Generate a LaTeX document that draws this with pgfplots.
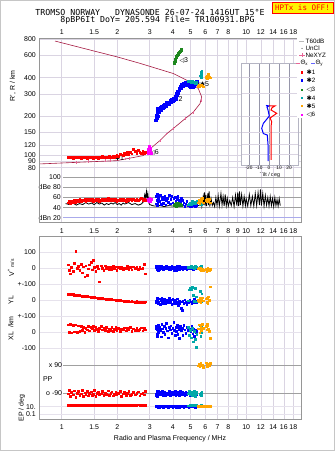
\documentclass[border=0pt]{standalone}
\usepackage{pgfplots}
\pgfplotsset{compat=1.18}
\usepackage{pgfplotstable}
\usepackage{fontspec}
\setmainfont{Liberation Sans}
\newfontfamily\monofont{DejaVu Sans Mono}
\newfontfamily\symfont{DejaVu Sans}

\definecolor{gridc}{RGB}{218,212,226}
\definecolor{lgridc}{RGB}{230,226,236}
\definecolor{framec}{RGB}{150,150,150}
\definecolor{dgrid}{RGB}{160,160,160}
\definecolor{bgrid}{RGB}{170,170,235}
\definecolor{cred}{RGB}{255,0,0}
\definecolor{cblue}{RGB}{0,0,255}
\definecolor{cgreen}{RGB}{30,135,30}
\definecolor{cteal}{RGB}{0,168,168}
\definecolor{corange}{RGB}{255,165,0}
\definecolor{cmag}{RGB}{255,0,255}
\definecolor{maroon}{RGB}{165,25,65}
\definecolor{pinkm}{RGB}{232,100,150}
\definecolor{insetg}{RGB}{150,150,170}

\newcommand{\fs}{\fontsize{7}{8}\selectfont}
\newcommand{\fss}{\fontsize{6.3}{7}\selectfont}

% echoes: f [MHz], h [km], a [dB], V* [m/s], YL, XL [km], PP [deg], EP [deg]
\pgfplotstableread{
f h a v yl xl pp ep
1.08 96 50 20 38 45 -95 30
1.10 97 52 -12 35 0 -70 25
1.11 95.5 49 -35 40 48 -110 35
1.13 96.5 53 5 33 -5 -85 22
1.15 95 51 -20 36 42 -100 30
1.17 96 54 30 32 2 -75 28
1.19 97 50 106 34 46 -115 33
1.21 95.5 55 0 30 -3 -90 26
1.23 96 52 10 31 40 -80 30
1.25 97 56 -15 28 5 -105 24
1.27 95 53 25 27 35 -95 32
1.29 96 55 -30 25 10 -70 28
1.31 97 54 8 26 30 -112 30
1.33 95.5 57 -55 24 -2 -88 27
1.35 96.5 53 15 22 25 -98 31
1.37 95 56 -45 23 15 -78 26
1.39 96 55 -5 21 38 -108 30
1.41 97 57 20 20 8 -92 29
1.44 95.5 54 35 19 28 -82 27
1.46 96.5 56 -10 18 20 -102 31
1.48 95 52 50 17 35 -96 28
1.50 96 55 5 16 12 -74 30
1.53 97.5 57 -20 15 30 -110 26
1.56 96 54 10 14 18 -90 32
1.58 95 56 -5 12 5 -84 28
1.60 97 53 -85 13 25 -100 30
1.63 96 55 15 11 38 -94 27
1.66 98 57 0 10 15 -80 29
1.69 96 54 -12 9 22 -106 31
1.72 97 56 14 8 10 -88 28
1.75 95.5 55 -3 7 30 -98 30
1.78 97 58 6 6 3 -76 26
1.81 98 54 -10 5 20 -104 30
1.84 96 56 4 4 12 -92 29
1.87 97 55 -9 3 28 -82 31
1.90 99 57 12 2 6 -108 27
1.93 97 54 -2 1 18 -96 30
1.96 98 56 8 0 32 -86 28
1.99 100 53 -12 -2 10 -100 30
2.03 98 55 3 -1 24 -90 29
2.07 103 57 -5 -3 4 -78 31
2.11 101 54 9 -4 20 -112 27
2.15 99 56 -8 -5 14 -94 30
2.19 104 55 2 -6 26 -84 28
2.23 102 53 -4 -7 8 -102 30
2.27 105 56 10 -8 22 -92 29
2.31 101 54 -6 -9 16 -80 31
2.35 106 57 5 -10 28 -106 27
2.40 103 55 -10 -8 6 -96 30
2.45 111 56 8 -11 20 -86 28
2.50 107 54 -2 -12 12 -100 30
2.55 104 57 6 -9 24 -90 29
2.60 109 55 -8 -13 10 -82 31
2.65 106 56 3 -10 18 -108 27
2.70 104 58 -4 -14 26 -94 30
2.75 108 55 0 -12 8 -88 28
2.79 103 57 25 -15 22 -100 30
2.83 105 54 -35 -11 14 -80 29
}\tred

\pgfplotstableread{
f h a v yl xl pp ep
3.24 188 48 5 -8 20 -95 12
3.28 196 55 -8 5 -10 -80 10
3.26 205 62 12 -15 35 -105 14
3.31 200 50 -3 -5 5 -88 9
3.29 214 66 8 10 -25 -98 11
3.33 222 58 -12 -20 45 -78 13
3.30 230 45 2 0 15 -110 10
3.36 215 60 15 -12 -5 -92 12
3.38 228 52 -6 8 30 -84 9
3.42 235 64 0 -25 10 -100 11
3.45 225 47 10 -3 -30 -86 14
3.48 240 56 -4 15 50 -96 10
3.52 232 61 6 -10 20 -76 12
3.55 245 49 -10 -18 0 -108 9
3.58 238 57 3 4 38 -90 11
3.62 250 63 9 -8 -15 -82 13
3.66 242 46 -5 -22 25 -102 10
3.70 255 54 14 2 55 -94 12
3.74 248 59 -2 -14 8 -88 11
3.78 258 51 7 -6 -35 -98 9
3.82 252 65 -9 12 28 -80 13
3.86 265 48 4 -16 15 -106 10
3.90 258 56 -7 -2 40 -92 12
3.95 270 62 11 -28 -8 -84 11
4.00 262 50 0 6 22 -100 9
4.04 278 58 -12 -12 60 -86 13
4.08 270 44 8 -20 12 -96 10
4.12 285 60 -3 0 -20 -78 12
4.15 275 53 5 -9 32 -104 11
4.18 300 47 -15 -24 5 -90 9
4.22 292 57 10 8 45 -82 13
4.25 315 63 -6 -14 -12 -98 10
4.28 305 49 2 -31 28 -88 12
4.32 330 55 13 -4 18 -108 11
4.35 322 45 -8 -18 -40 -94 9
4.40 345 52 6 -10 35 -80 13
4.43 335 58 -2 -50 8 -100 10
4.48 352 46 9 -62 25 -86 12
4.52 345 54 -11 -6 -18 -96 11
4.58 360 50 4 -20 42 -90 9
4.64 352 43 -5 2 15 -104 12
4.70 365 48 8 -12 -6 -84 10
4.76 355 52 -8 -26 30 -98 13
4.82 362 44 3 -8 10 -92 11
4.88 350 47 -4 -16 -22 -80 9
4.94 345 42 6 0 20 -102 12
5.00 340 45 -2 -10 5 -88 10
5.06 348 43 0 -20 35 -96 11
5.12 338 46 5 -6 -10 -90 12
5.18 350 44 -6 -14 18 -84 10
5.24 345 45 2 4 -25 -100 11
5.30 358 43 -3 -8 12 -92 9
5.36 365 44 4 -12 -5 -86 12
5.40 375 46 0 -4 8 -98 10
}\tblue

\pgfplotstableread{
f h a v yl xl pp ep
4.86 378 46 5 -5 30 -95 18
4.92 372 48 8 65 -20 -80 20
4.98 380 50 2 72 10 -100 22
5.04 368 47 10 68 -35 -85 19
5.10 375 52 4 80 25 -105 21
5.16 365 49 6 30 -60 -90 20
5.22 370 51 0 -6 5 -78 23
5.28 362 48 12 75 -45 -110 18
5.34 368 50 3 20 -94 -92 22
5.40 360 52 8 -10 -15 -84 20
5.62 415 47 6 55 40 -98 19
5.66 440 49 2 10 -25 -88 21
5.70 425 46 10 -8 15 -102 20
5.74 450 48 4 40 -5 -82 22
5.68 405 50 7 5 30 -95 18
}\tteal

\pgfplotstableread{
f h a v yl xl pp ep
5.48 345 50 -5 0 20 85 12
5.55 350 54 0 -8 45 95 10
5.60 342 48 -10 10 -5 80 14
5.66 348 56 -3 -15 30 100 11
5.72 352 52 -15 5 10 88 13
5.78 346 58 -8 15 50 92 10
5.84 340 50 -12 -5 25 78 12
6.05 402 55 -6 8 35 105 11
6.12 410 57 -18 -12 15 90 13
6.18 418 52 -2 -20 40 84 10
6.24 425 54 -10 20 20 96 12
6.30 405 56 -14 -2 5 88 11
6.36 400 50 -8 83 -40 100 14
6.15 395 53 -4 10 48 82 12
}\torange

\pgfplotstableread{
f h a
4.05 515 46
4.08 530 44
4.10 545 48
4.13 560 45
4.16 575 50
4.19 590 43
4.22 600 47
4.26 612 45
4.30 625 49
4.34 635 44
4.38 645 46
4.42 655 48
4.45 662 45
4.12 540 47
4.20 580 44
4.28 610 46
}\tgreen

\pgfplotstableread{
f h a
2.92 108 55
2.95 112 57
2.97 106 53
3.00 115 58
3.02 110 54
3.05 104 56
2.98 118 55
3.03 113 52
2.94 104 56
}\tmag

% ionospheric profile (bottomside + topside)
\pgfplotstableread{
f h
0.756 85.5
1.206 88
1.987 90.7
2.77 99.3
3.01 112
3.41 130
3.71 146.8
4.11 165.2
4.66 192
5.17 216.3
5.62 251.6
5.74 283.5
5.50 329.7
4.96 371
4.03 431
2.66 517
1.987 582
1.548 637
0.92 771
}\tprof

\pgfplotstableread{
f h
1.206 88
1.394 89.1
1.717 90.7
1.83 90.9
2.2 93.5
2.33 94.5
3.41 130
3.71 146
4.03 161
4.66 192
5.17 216
5.68 267
}\tbars

\pgfplotsset{
  echodots/.style={only marks, mark=square*, mark size=0.85bp, color=#1, mark options={draw=none, fill=#1}},
}

\begin{document}
\begin{tikzpicture}
\useasboundingbox (0,0) rectangle (335bp,451bp);

% ---------------- top panel: virtual height ----------------
\begin{axis}[anchor=south west, scale only axis, width=262.4bp,
  xmode=log, xmin=0.756, xmax=20.0,
  at={(39.3bp,280bp)}, height=132.5bp,
  ymode=log, ymin=75.4, ymax=807,
  tick style={draw=none},
  ticklabel style={font=\fs},
  grid style={gridc, line width=0.5bp},
  axis line style={draw=none},
  xtick={1,1.5,2,3,4,5,6,7,8,9,10,12,14,16,18},
  xticklabels={1,1.5,2,3,4,5,6,7,8,,10,12,14,16,18},
  xticklabel pos=upper,
  ytick={80,90,100,120,150,200,300,400,600,800},
  yticklabels={80,90,100,120,150,200,300,400,600,800},
  xmajorgrids, ymajorgrids]
\addplot[maroon, line width=0.6bp] table[x=f,y=h] {\tprof};
\addplot[only marks, mark=|, mark size=1.4bp, pinkm, mark options={line width=0.6bp}] table[x=f,y=h] {\tbars};
\addplot[echodots=cred] table[x=f,y=h] {\tred};
\addplot[echodots=cmag] table[x=f,y=h] {\tmag};
\addplot[echodots=cblue, mark size=1.2bp] table[x=f,y=h] {\tblue};
\addplot[echodots=cgreen, mark size=1.0bp] table[x=f,y=h] {\tgreen};
\addplot[echodots=cteal] table[x=f,y=h] {\tteal};
\addplot[echodots=corange] table[x=f,y=h] {\torange};
\node[anchor=west, inner sep=0pt, font=\fs] at (axis cs:1.946,94.3) {{\symfont\fontsize{6}{6}\selectfont ✱}1};
\node[anchor=west, inner sep=0pt, font=\fs] at (axis cs:3.01,105) {{\symfont\fontsize{6}{6}\selectfont ◁}6};
\node[anchor=west, inner sep=0pt, font=\fs] at (axis cs:4.03,275) {{\symfont\fontsize{6}{6}\selectfont ✱}2};
\node[anchor=west, inner sep=0pt, font=\fs] at (axis cs:4.34,541) {{\symfont\fontsize{6}{6}\selectfont ◁}3};
\node[anchor=west, inner sep=0pt, font=\fs] at (axis cs:5.28,354) {{\symfont\fontsize{6}{6}\selectfont ✱✱}5};
\end{axis}

% ---------------- tilt inset ----------------
\begin{axis}[at={(241.7bp,285.5bp)}, anchor=south west, scale only axis,
  width=56.6bp, height=102.5bp,
  xmin=-27.3, xmax=29.3, ymode=log, ymin=82.2, ymax=519,
  axis background/.style={fill=white},
  axis line style={draw=insetg!70, line width=0.6bp},
  tick style={draw=none},
  xtick={-20,-10,0,10,20}, xticklabels={-20,-10,0,10,20},
  xticklabel style={font=\fontsize{4.8}{5}\selectfont, inner sep=0.6bp},
  ytick={100,120,150,200,300,400}, yticklabels={},
  xmajorgrids, ymajorgrids,
  x grid style={insetg, line width=0.5bp},
  y grid style={gridc, line width=0.5bp}]
\addplot[cblue, line width=1bp] coordinates {(-3,242) (0,240) (-2,235) (-1,223) (0.3,200) (-5.7,175) (-7.3,160.5) (-5.7,146) (-1.7,142) (-1,120) (-1,89)};
\addplot[cred, line width=1bp] coordinates {(0,240) (6,240) (3,232) (2,223) (7.7,210) (1,193) (2.7,181) (2,165) (2,120) (2,91)};
\end{axis}
\node[font=\fontsize{5.3}{6}\selectfont, inner sep=0pt] at (270bp,276.3bp) {Tilt / deg};

% ---------------- amplitude panel ----------------
\begin{axis}[anchor=south west, scale only axis, width=262.4bp,
  xmode=log, xmin=0.756, xmax=20.0,
  at={(39.3bp,228.3bp)}, height=51.7bp,
  ymin=10.1, ymax=112.5, axis line style={draw=none},
  tick style={draw=none},
  ticklabel style={font=\fs},
  grid style={gridc, line width=0.5bp},
  xtick={1,1.5,2,3,4,5,6,7,8,9,10,12,14,16,18},
  xticklabels={1,1.5,2,3,4,5,6,7,8,9,10,12,14,16,18},
  xticklabel style={yshift=-2.5bp},
  xmajorgrids,
  ytick={20,40,60,80,100}, yticklabels={dBn 20,40,60,dBe 80,100},
  yticklabel style={xshift=25bp}]
\draw[bgrid, line width=0.6bp] (axis cs:1.02,20) -- (axis cs:20,20);
\draw[dgrid, line width=0.6bp] (axis cs:1.02,40) -- (axis cs:20,40);
\draw[dgrid, line width=0.6bp] (axis cs:1.02,60) -- (axis cs:20,60);
\draw[dgrid, line width=0.6bp] (axis cs:1.02,80) -- (axis cs:20,80);
\draw[dgrid, line width=0.6bp] (axis cs:1.02,100) -- (axis cs:20,100);
\addplot[black, line width=0.8bp] coordinates {
(1.05,48)(1.1,46)(1.15,49)(1.2,45)(1.25,48)(1.3,46)(1.35,50)(1.4,47)(1.45,49)(1.5,46)
(1.55,50)(1.6,47)(1.65,49)(1.7,45)(1.75,48)(1.8,46)(1.85,49)(1.9,47)(1.95,50)(2.0,46)
(2.05,48)(2.1,45)(2.15,49)(2.2,47)(2.3,50)(2.4,46)(2.5,48)(2.6,45)(2.7,47)(2.78,52)
(2.82,66)(2.85,60)(2.88,72)(2.9,58)(2.93,68)(2.96,50)(3.0,46)(3.1,44)(3.2,43)(3.4,44)
(3.6,42)(3.8,44)(4.0,43)(4.2,45)(4.4,42)(4.6,44)(4.8,43)(5.0,44)(5.2,42)(5.4,44)
(5.6,44)(5.7,55)(5.75,43)(5.85,62)(5.9,45)(5.95,70)(6.0,44)(6.05,65)(6.1,43)(6.2,68)
(6.25,45)(6.3,72)(6.35,42)(6.45,58)(6.55,44)(6.65,50)(6.75,42)(6.85,60)(6.95,44)(7.05,64)
(7.15,43)(7.3,68)(7.4,45)(7.5,62)(7.6,43)(7.7,66)(7.8,44)(7.9,58)(8.0,43)(8.15,54)
(8.3,44)(8.45,60)(8.6,42)(8.75,65)(8.9,44)(9.0,70)(9.1,43)(9.2,72)(9.3,45)(9.45,66)
(9.6,43)(9.75,62)(9.9,44)(10.0,58)(10.2,43)(10.4,66)(10.6,44)(10.8,62)(11.0,43)(11.2,68)
(11.4,44)(11.6,70)(11.8,45)(11.95,76)(12.1,44)(12.3,68)(12.5,43)(12.7,64)(12.9,45)(13.1,60)
(13.3,43)(13.5,62)(13.7,44)(13.9,58)(14.1,42)(14.3,60)(14.5,44)(14.7,56)(14.9,43)(15.1,58)(15.3,44)};
\addplot[echodots=cred] table[x=f,y=a] {\tred};
\addplot[echodots=cmag] table[x=f,y=a] {\tmag};
\addplot[echodots=cblue] table[x=f,y=a] {\tblue};
\addplot[echodots=cgreen] table[x=f,y=a] {\tgreen};
\addplot[echodots=cteal] table[x=f,y=a] {\tteal};
\addplot[echodots=corange] table[x=f,y=a] {\torange};
\end{axis}

% frame of upper region
\draw[framec, line width=0.6bp] (39.3bp,228.3bp) rectangle (301.7bp,412.5bp);

% ---------------- lower panel: V*, YL, XL, PP, EP ----------------
\begin{axis}[anchor=south west, scale only axis, width=262.4bp,
  xmode=log, xmin=0.756, xmax=20.0,
  at={(39.3bp,32bp)}, height=182.3bp,
  ymin=32, ymax=214.3,
  tick style={draw=none},
  ticklabel style={font=\fs},
  grid style={gridc, line width=0.5bp},
  y grid style={lgridc, line width=0.5bp},
  axis line style={framec, line width=0.6bp},
  xtick={1,1.5,2,3,4,5,6,7,8,9,10,12,14,16,18},
  xticklabels={1,1.5,2,3,4,5,6,7,8,,10,12,14,16,18},
  xticklabel style={yshift=-2.2bp},
  xmajorgrids, ymajorgrids,
  ytick={36.7,44.3,103,119,135,151,167,183,199},
  yticklabels={0.1,10.,-100,0,+-100,0,+-100,0,100}]
\draw[dgrid, line width=0.6bp] (axis cs:1.02,86) -- (axis cs:20,86);
\draw[dgrid, line width=0.6bp] (axis cs:1.02,58) -- (axis cs:20,58);
\node[anchor=east, inner sep=1bp, font=\fs] at (axis cs:1.02,86) {x 90};
\node[anchor=east, inner sep=1bp, font=\fs] at (axis cs:1.02,58) {o -90};
\node[anchor=west, inner sep=0bp, font=\fs] at (axis cs:0.79,72) {PP};
% V*
\addplot[echodots=cred] table[x=f, y expr=183+0.16*\thisrow{v}] {\tred};
\addplot[echodots=cblue] table[x=f, y expr=183+0.16*\thisrow{v}] {\tblue};
\addplot[echodots=cteal] table[x=f, y expr=183+0.16*\thisrow{v}] {\tteal};
\addplot[echodots=corange] table[x=f, y expr=183+0.16*\thisrow{v}] {\torange};
% YL
\addplot[echodots=cred] table[x=f, y expr=151+0.16*\thisrow{yl}] {\tred};
\addplot[echodots=cblue] table[x=f, y expr=151+0.16*\thisrow{yl}] {\tblue};
\addplot[echodots=cteal] table[x=f, y expr=151+0.16*\thisrow{yl}] {\tteal};
\addplot[echodots=corange] table[x=f, y expr=151+0.16*\thisrow{yl}] {\torange};
% XL
\addplot[echodots=cred] table[x=f, y expr=119+0.16*\thisrow{xl}] {\tred};
\addplot[echodots=cblue] table[x=f, y expr=119+0.16*\thisrow{xl}] {\tblue};
\addplot[echodots=cteal] table[x=f, y expr=119+0.16*\thisrow{xl}] {\tteal};
\addplot[echodots=corange] table[x=f, y expr=119+0.16*\thisrow{xl}] {\torange};
% PP
\addplot[echodots=cred] table[x=f, y expr=72+0.1556*\thisrow{pp}] {\tred};
\addplot[echodots=cblue] table[x=f, y expr=72+0.1556*\thisrow{pp}] {\tblue};
\addplot[echodots=cteal] table[x=f, y expr=72+0.1556*\thisrow{pp}] {\tteal};
\addplot[echodots=corange] table[x=f, y expr=72+0.1556*\thisrow{pp}] {\torange};
% EP (log)
\addplot[echodots=cred] table[x=f, y expr=40.5+1.65*ln(\thisrow{ep})] {\tred};
\addplot[echodots=cblue] table[x=f, y expr=40.5+1.65*ln(\thisrow{ep})] {\tblue};
\addplot[echodots=cteal] table[x=f, y expr=40.5+1.65*ln(\thisrow{ep})] {\tteal};
\addplot[echodots=corange] table[x=f, y expr=40.5+1.65*ln(\thisrow{ep})] {\torange};
\end{axis}

% ---------------- legend ----------------
\fill[white] (297bp,333bp) rectangle (334bp,414bp);
\begin{scope}[font=\fss]
\draw[gray!55, line width=0.8bp] (299bp,409.3bp) -- (304bp,409.3bp);
\node[anchor=west, inner sep=0.5bp] at (305bp,409.3bp) {T60dB};
\fill[black] (302bp,402.7bp) circle (0.5bp);
\node[anchor=west, inner sep=0.5bp] at (305bp,402.7bp) {UnCl};
\draw[pinkm, line width=0.6bp] (299bp,396bp) -- (305bp,396bp) (302bp,394bp) -- (302bp,398bp);
\node[anchor=west, inner sep=0.5bp] at (305bp,396bp) {NeXYZ};
\draw[pinkm, line width=0.6bp] (296bp,387.7bp) -- (300bp,387.7bp);
\node[anchor=west, inner sep=0.3bp] at (300bp,387.7bp) {Θ\textsubscript{x}};
\draw[cblue!60, line width=0.6bp] (311bp,387.7bp) -- (315bp,387.7bp);
\node[anchor=west, inner sep=0.3bp] at (315bp,387.7bp) {Θ\textsubscript{y}};
\fill[cred] (300.5bp,377.1bp) rectangle +(2.4bp,2.4bp);
\node[anchor=west, inner sep=0.5bp] at (306bp,378.3bp) {{\symfont ✱}1};
\fill[cblue] (300.5bp,369.1bp) rectangle +(2.4bp,2.4bp);
\node[anchor=west, inner sep=0.5bp] at (306bp,370.3bp) {{\symfont ✱}2};
\fill[cgreen] (300.5bp,359.8bp) rectangle +(2.4bp,2.4bp);
\node[anchor=west, inner sep=0.5bp] at (306bp,361bp) {{\symfont ◁}3};
\fill[cteal] (300.5bp,351.5bp) rectangle +(2.4bp,2.4bp);
\node[anchor=west, inner sep=0.5bp] at (306bp,352.7bp) {{\symfont ✱}4};
\fill[corange] (300.5bp,343.8bp) rectangle +(2.4bp,2.4bp);
\node[anchor=west, inner sep=0.5bp] at (306bp,345bp) {{\symfont ✱}5};
\fill[cmag] (300.5bp,334.8bp) rectangle +(2.4bp,2.4bp);
\node[anchor=west, inner sep=0.5bp] at (306bp,336bp) {{\symfont ◁}6};
\end{scope}

% ---------------- titles and labels ----------------
\node[font=\monofont\fontsize{8.3}{9}\selectfont, inner sep=0pt] at (150bp,439bp) {TROMSO NORWAY~~~DYNASONDE 26-07-24 1416UT 15°E};
\node[font=\monofont\fontsize{8.3}{9}\selectfont, inner sep=0pt] at (157.5bp,431bp) {8pBP6It DoY= 205.594 File= TR100931.BPG};
\node[draw=red, fill=yellow, text=red, font=\monofont\fontsize{7.6}{8}\selectfont, inner sep=0pt, minimum width=61bp, minimum height=10.5bp, line width=0.8bp] at (302.5bp,443bp) {HPTx is OFF!};

\node[rotate=90, font=\fs] at (12.7bp,365bp) {R', R / km};
\node[rotate=90, font=\fs] at (11bp,183bp) {V\textsuperscript{*} {\fontsize{5}{6}\selectfont m/s}};
\node[rotate=90, font=\fs] at (11bp,151bp) {YL};
\node[rotate=90, font=\fs] at (11bp,129bp) {/km};
\node[rotate=90, font=\fs] at (11bp,115bp) {XL};
\node[rotate=90, font=\fs] at (21.7bp,43bp) {EP / deg};
\node[font=\fs] at (170bp,12bp) {Radio and Plasma Frequency / MHz};

\draw[gray!45, line width=0.6bp] (0.3bp,0.3bp) rectangle (334.7bp,450.7bp);
\end{tikzpicture}
\end{document}
